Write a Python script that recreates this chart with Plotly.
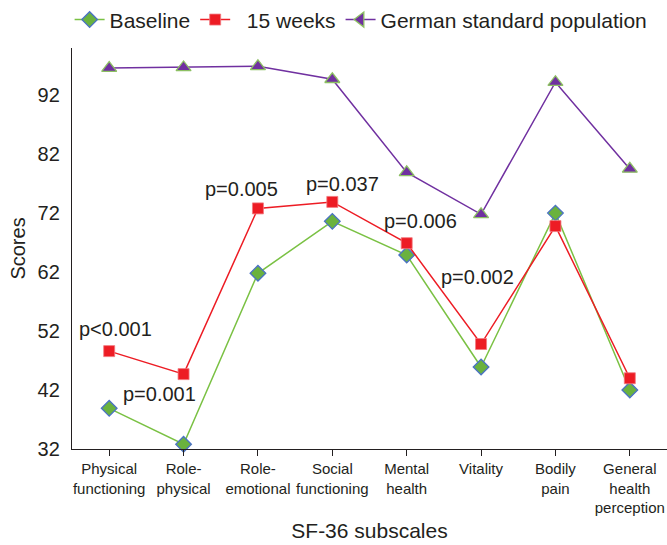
import plotly.graph_objects as go

categories = ["Physical<br>functioning", "Role-<br>physical", "Role-<br>emotional",
              "Social<br>functioning", "Mental<br>health", "Vitality",
              "Bodily<br>pain", "General<br>health<br>perception"]
baseline = [38.9, 32.8, 61.8, 70.6, 64.9, 45.9, 72.0, 42.0]
weeks15 = [48.6, 44.7, 72.8, 73.9, 66.9, 49.8, 69.8, 44.0]
german = [96.6, 96.7, 96.9, 94.7, 78.9, 71.8, 94.2, 79.5]
y_ticks = [32, 42, 52, 62, 72, 82, 92]
p_labels = ["p<0.001", "p=0.001", "p=0.005", "p=0.037", "p=0.006", "p=0.002"]

TXT = "#231f20"
FONT = "Liberation Sans, Arial, sans-serif"

fig = go.Figure()
fig.add_trace(go.Scatter(
    x=categories, y=baseline, name="Baseline", mode="lines+markers",
    line=dict(color="#7ac143", width=1.5),
    marker=dict(symbol="diamond", size=12, color="#6ab23e",
                line=dict(color="#4a72c4", width=1.3)),
    cliponaxis=False))
fig.add_trace(go.Scatter(
    x=categories, y=weeks15, name="\u00a0\u00a015 weeks", mode="lines+markers",
    line=dict(color="#ed1c24", width=1.5),
    marker=dict(symbol="square", size=11, color="#ed1c24",
                line=dict(color="#f37a80", width=0.8)),
    cliponaxis=False))
fig.add_trace(go.Scatter(
    x=categories, y=german, name="German standard population", mode="lines+markers",
    line=dict(color="#7030a0", width=1.5),
    marker=dict(symbol="triangle-up", size=13, color="#7030a0",
                line=dict(color="#8dc063", width=1.3)),
    showlegend=False, legendgroup="g", cliponaxis=False))
# legend entry (legend glyph in the reference is a left-pointing triangle)
fig.add_trace(go.Scatter(
    x=[None], y=[None], name="German standard population", mode="lines+markers",
    line=dict(color="#7030a0", width=1.5),
    marker=dict(symbol="triangle-left", size=13, color="#7030a0",
                line=dict(color="#8dc063", width=1.3)),
    legendgroup="g"))

p_pos = [(0.08, 52.3), (0.68, 41.4), (1.78, 76.1), (3.14, 76.9), (4.18, 70.7), (4.95, 61.2)]
annotations = []
for (px, py), t in zip(p_pos, p_labels):
    annotations.append(dict(x=px, y=py, xref="x", yref="y", text=t, showarrow=False,
                            font=dict(size=20, color=TXT, family=FONT),
                            xanchor="center", yanchor="middle"))

fig.update_layout(
    width=667, height=545,
    margin=dict(l=72, r=0, t=48, b=96, autoexpand=False),
    paper_bgcolor="white", plot_bgcolor="white",
    font=dict(family=FONT, color=TXT, size=16),
    showlegend=True,
    legend=dict(orientation="h", x=-0.004, xanchor="left", y=1.07, yanchor="middle",
                font=dict(size=21, color=TXT), bgcolor="rgba(0,0,0,0)",
                itemsizing="trace", tracegroupgap=0),
    annotations=annotations,
    xaxis=dict(type="category", range=[-0.5, 7.5], showgrid=False, zeroline=False,
               showline=True, linecolor=TXT, linewidth=1.3,
               ticks="outside", ticklen=6, tickcolor=TXT, tickwidth=1.3,
               tickangle=0,
               tickfont=dict(size=15, color=TXT),
               title=dict(text="SF-36 subscales", font=dict(size=21, color=TXT), standoff=8),
               automargin=False),
    yaxis=dict(range=[32, 100], tickvals=y_ticks, showgrid=False, zeroline=False,
               showline=True, linecolor=TXT, linewidth=1.3, ticks="",
               ticklabelstandoff=7,
               tickfont=dict(size=20, color=TXT),
               title=dict(text="Scores", font=dict(size=20, color=TXT), standoff=6),
               automargin=False),
)

fig.write_html("out.html")
